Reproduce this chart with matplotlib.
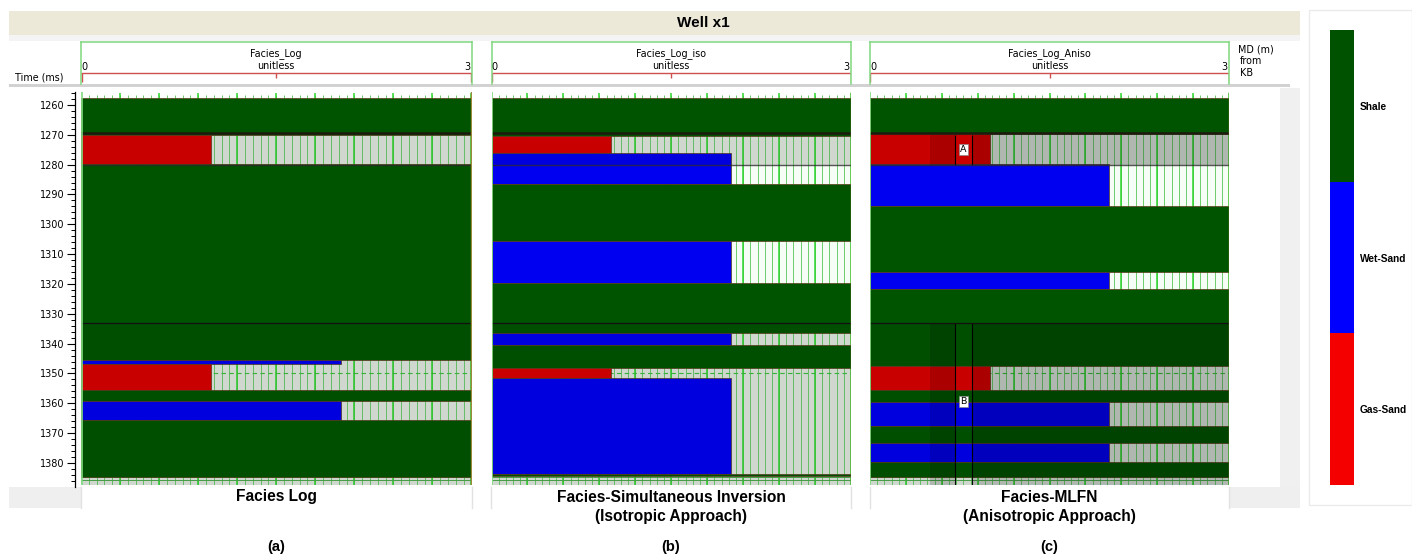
import numpy as np
import matplotlib
matplotlib.use("Agg")
import matplotlib.pyplot as plt
from matplotlib.patches import Rectangle
from matplotlib.colors import ListedColormap, BoundaryNorm
import matplotlib.cm as cm

W, H = 1412, 555

# Facies codes: 1 = Gas-Sand, 2 = Wet-Sand, 3 = Shale
facies_names = ["Gas-Sand", "Wet-Sand", "Shale"]
facies_colors = {1: "#d80000", 2: "#0000f0", 3: "#005400"}
legend_colors = ["#f40000", "#0000ff", "#005200"]

# Layer tops (ms, TWT) and facies code for each track; *_base closes the last layer
log_tops = [1257.5, 1270.0, 1279.8, 1345.5, 1346.9, 1355.5, 1359.2, 1365.6]
log_facies = [3, 1, 3, 2, 1, 3, 2, 3]
log_base = 1384.6

iso_tops = [1257.5, 1270.3, 1276.0, 1286.6, 1305.5, 1319.7, 1336.4, 1340.3,
            1348.2, 1351.5, 1383.7]
iso_facies = [3, 1, 2, 3, 2, 3, 2, 3, 1, 2, 3]
iso_base = 1384.5

aniso_tops = [1257.5, 1269.8, 1279.9, 1293.8, 1316.1, 1321.7, 1347.4, 1355.5,
              1359.5, 1367.5, 1373.4, 1379.8]
aniso_facies = [3, 1, 2, 3, 2, 3, 1, 3, 2, 3, 2, 3]
aniso_base = 1384.6

# Time axis labels and the measured-depth scale (MD in m and its time)
time_ticks = [1260, 1270, 1280, 1290, 1300, 1310, 1320, 1330, 1340, 1350,
              1360, 1370, 1380]
md_labels = [1300, 1325, 1350, 1375, 1400, 1425, 1450, 1475]
md_times = [1257.75, 1275.66, 1294.63, 1312.53, 1329.83, 1346.92, 1364.26, 1381.59]

# Horizon picks (ms)
horizon_times = [1269.5, 1280.0, 1333.0]

track_titles = ["Facies_Log", "Facies_Log_iso", "Facies_Log_Aniso"]
footer_lines = [("Facies Log", None),
                ("Facies-Simultaneous Inversion", "(Isotropic Approach)"),
                ("Facies-MLFN", "(Anisotropic Approach)")]
panel_tags = ["(a)", "(b)", "(c)"]

BOLD = dict(family="Liberation Sans", weight="bold")
SMALL = dict(family="DejaVu Sans")

fig = plt.figure(figsize=(W / 100, H / 100), dpi=100)
fig.patch.set_facecolor("white")


def px_axes(x0, y0, x1, y1, **kw):
    return fig.add_axes([x0 / W, 1 - y1 / H, (x1 - x0) / W, (y1 - y0) / H], **kw)


def t_of(y):
    return 1260 + (y - 105) / 2.983


# ---- page furniture (pixel coordinates) ----
bg = px_axes(0, 0, W, H)
bg.set_xlim(0, W)
bg.set_ylim(H, 0)
bg.axis("off")
bg.add_patch(Rectangle((1309, 10), 103, 495, fc="white", ec="#ebebeb", lw=1))
bg.add_patch(Rectangle((9, 11), 1291, 24, fc="#ece9d8", ec="none"))
bg.text(703, 23, "Well x1", ha="center", va="center", fontsize=11, **BOLD)
bg.add_patch(Rectangle((9, 35), 1291, 6, fc="#f4f4f4", ec="none"))
bg.add_patch(Rectangle((9, 84), 1281, 2.5, fc="#d2d2d2", ec="none"))
bg.add_patch(Rectangle((1280, 88), 20, 420, fc="#f0f0f0", ec="none"))
bg.add_patch(Rectangle((9, 487), 72, 21, fc="#efefef", ec="none"))
bg.add_patch(Rectangle((1229, 487), 71, 21, fc="#efefef", ec="none"))
for xb in [81, 472, 491, 851, 870, 1229]:
    bg.plot([xb, xb], [487, 508], color="#e2e2e2", lw=1)
bg.text(39.5, 78, "Time (ms)", ha="center", va="center", fontsize=6.9, **SMALL)
bg.text(1238, 50, "MD (m)", ha="left", va="center", fontsize=6.9, **SMALL)
bg.text(1240, 61.5, "from", ha="left", va="center", fontsize=6.9, **SMALL)
bg.text(1240, 73, "KB", ha="left", va="center", fontsize=6.9, **SMALL)

track_px = [(81, 471.5), (491.5, 851), (870, 1229)]
footer_x = [276, 671, 1049]
for (fx, (l1, l2), tag) in zip(footer_x, footer_lines, panel_tags):
    bg.text(fx, 497, l1, ha="center", va="center", fontsize=11.2, **BOLD)
    if l2:
        bg.text(fx, 516.5, l2, ha="center", va="center", fontsize=11.2, **BOLD)
    bg.text(fx, 547, tag, ha="center", va="center", fontsize=10.5, **BOLD)

y_top_px, y_bot_px = 92, 485
t_top, t_bot = t_of(y_top_px), t_of(y_bot_px)

# ---- time axis (left) ----
ax_t = px_axes(74.5, 92, 80, 487)
ax_t.set_ylim(t_of(487), t_of(92))
ax_t.patch.set_visible(False)
for s in ["top", "right", "bottom"]:
    ax_t.spines[s].set_visible(False)
ax_t.spines["left"].set_linewidth(0.9)
ax_t.set_xticks([])
ax_t.set_yticks(time_ticks)
ax_t.set_yticks(np.arange(1256, 1388, 2), minor=True)
ax_t.tick_params(axis="y", which="major", length=6, width=0.8, pad=1.2,
                 labelsize=7, direction="out")
ax_t.tick_params(axis="y", which="minor", length=3, width=0.7, direction="out")

# ---- measured depth axis (right) ----
ax_md = px_axes(1232, 92, 1238, 487)
ax_md.set_ylim(t_of(487), t_of(92))
ax_md.patch.set_visible(False)
for s in ["top", "left", "bottom"]:
    ax_md.spines[s].set_visible(False)
ax_md.spines["right"].set_linewidth(0.9)
ax_md.set_xticks([])
ax_md.yaxis.tick_right()
ax_md.set_yticks(md_times)
ax_md.set_yticklabels([str(v) for v in md_labels])
md_minor = np.arange(1295, 1481, 5)
ax_md.set_yticks(np.interp(md_minor, md_labels, md_times,
                           left=np.nan, right=np.nan), minor=True)
ax_md.tick_params(axis="y", which="major", length=5, width=0.8, pad=1.2,
                  labelsize=7, direction="out")
ax_md.tick_params(axis="y", which="minor", length=3.5, width=0.7, direction="out")


def draw_header(x0, x1, title):
    hx = px_axes(x0, 41.5, x1, 83.5)
    hx.set_xlim(0, 3)
    hx.set_ylim(83.5, 41.5)
    hx.set_xticks([])
    hx.set_yticks([])
    hx.patch.set_facecolor("white")
    for s in ["left", "right", "top"]:
        hx.spines[s].set_color("#7fd77f")
        hx.spines[s].set_linewidth(1.1)
    hx.spines["bottom"].set_visible(False)
    hx.text(1.5, 53.5, title, ha="center", va="center", fontsize=6.9, **SMALL)
    hx.text(1.5, 66, "unitless", ha="center", va="center", fontsize=6.9, **SMALL)
    hx.text(0.0, 66.5, "0", ha="left", va="center", fontsize=6.9, **SMALL)
    hx.text(2.99, 66.5, "3", ha="right", va="center", fontsize=6.9, **SMALL)
    hx.hlines(73.3, 0, 3, color="#d05050", lw=1)
    hx.vlines([0.004, 2.996], 73.3, 82, color="#d05050", lw=1)
    hx.vlines([1.5], 73.3, 77.5, color="#d05050", lw=1)


def draw_track(x0, x1, tops, facies, base, strong=False, marks=()):
    ax = px_axes(x0, y_top_px, x1, y_bot_px)
    ax.set_xlim(0, 3)
    ax.set_ylim(t_bot, t_top)
    ax.axis("off")

    gray = "#dfe8df"
    ax.axhspan(t_top, t_bot, color="#f6fcf6", zorder=0, lw=0)
    ax.axhspan(1270, 1280, color=gray, zorder=0.2, lw=0)
    ax.axhspan(1333, t_bot, color=gray, zorder=0.2, lw=0)
    ax.axhspan(t_top, 1257.5, color="white", zorder=0.3, lw=0)

    minor = np.arange(0.06, 3.0, 0.06)
    major = np.arange(0.3, 3.0, 0.3)
    ax.vlines(minor, 1257.5, t_bot, color="#6ccc6c", lw=0.7, zorder=1)
    ax.vlines(major, 1257.5, t_bot, color="#2fd52f", lw=1.1, zorder=1)
    ax.vlines(minor, 1256.5, 1257.5, color="#6ccc6c", lw=0.7, zorder=1)
    ax.vlines(major, 1255.9, 1257.5, color="#2fd52f", lw=1.1, zorder=1)
    ax.hlines([1300, 1350], 0, 3, color="#3cbf3c", lw=0.8,
              linestyles=(0, (4, 3)), zorder=1)
    ax.hlines([base + 0.15, base + 1.1], 0, 3, color="#4caa4c", lw=0.7, zorder=1)

    bounds = list(tops[1:]) + [base]
    thick = np.array(bounds) - np.array(tops)
    ax.barh(tops, [float(f) for f in facies], height=thick, left=0, align="edge",
            color=[facies_colors[f] for f in facies], edgecolor="#5b3b1b",
            linewidth=0.5, zorder=2)

    for (a, b) in [(1270, 1280), (1333, t_bot)]:
        ax.axhspan(a, b, color="black", alpha=0.07, zorder=3, lw=0)
        if strong:
            ax.add_patch(Rectangle((0.5, a), 0.21, b - a, fc="black", alpha=0.15,
                                   lw=0, zorder=3))
            ax.add_patch(Rectangle((0.855, a), 3 - 0.855, b - a, fc="black",
                                   alpha=0.15, lw=0, zorder=3))
            ax.vlines([0.71, 0.855], a, b, color="black", lw=0.8, zorder=4)

    ax.axhline(horizon_times[0], color="#1c1a0e", lw=1.8, zorder=4)
    ax.axhline(horizon_times[1], color="#2a2a2a", lw=1.0, alpha=0.8, zorder=4)
    ax.axhline(horizon_times[2], color="#111111", lw=0.9, zorder=4)
    ax.axvline(0.004, color="#7fdc7f", lw=1.2, zorder=5)
    ax.axvline(2.996, color="#9a8a3a", lw=1.0, zorder=5)

    for (mx, mt, lab) in marks:
        ax.text(mx, mt, lab, ha="center", va="center", fontsize=6.8, zorder=6,
                bbox=dict(boxstyle="square,pad=0.15", fc="white", ec="#888888",
                          lw=0.5), **SMALL)
    return ax


tracks = [(log_tops, log_facies, log_base, False, ()),
          (iso_tops, iso_facies, iso_base, False, ()),
          (aniso_tops, aniso_facies, aniso_base, True,
           ((0.78, 1274.9, "A"), (0.78, 1359.4, "B")))]
for (x0, x1), title, (tp, fc, bs, strong, marks) in zip(track_px, track_titles, tracks):
    draw_header(x0, x1, title)
    draw_track(x0, x1, tp, fc, bs, strong, marks)

# ---- facies legend ----
cax = px_axes(1330, 30, 1354, 485)
cmap = ListedColormap(legend_colors)
norm = BoundaryNorm([0.5, 1.5, 2.5, 3.5], cmap.N)
cb = fig.colorbar(cm.ScalarMappable(norm=norm, cmap=cmap), cax=cax, ticks=[1, 2, 3])
cb.set_ticklabels(facies_names)
cb.outline.set_visible(False)
cax.minorticks_off()
cax.tick_params(which="both", length=0, pad=4)
for lbl in cax.get_yticklabels():
    lbl.set_fontsize(7.3)
    lbl.set_fontfamily("Liberation Sans")
    lbl.set_fontweight("bold")

fig.savefig("out.png", dpi=100)
